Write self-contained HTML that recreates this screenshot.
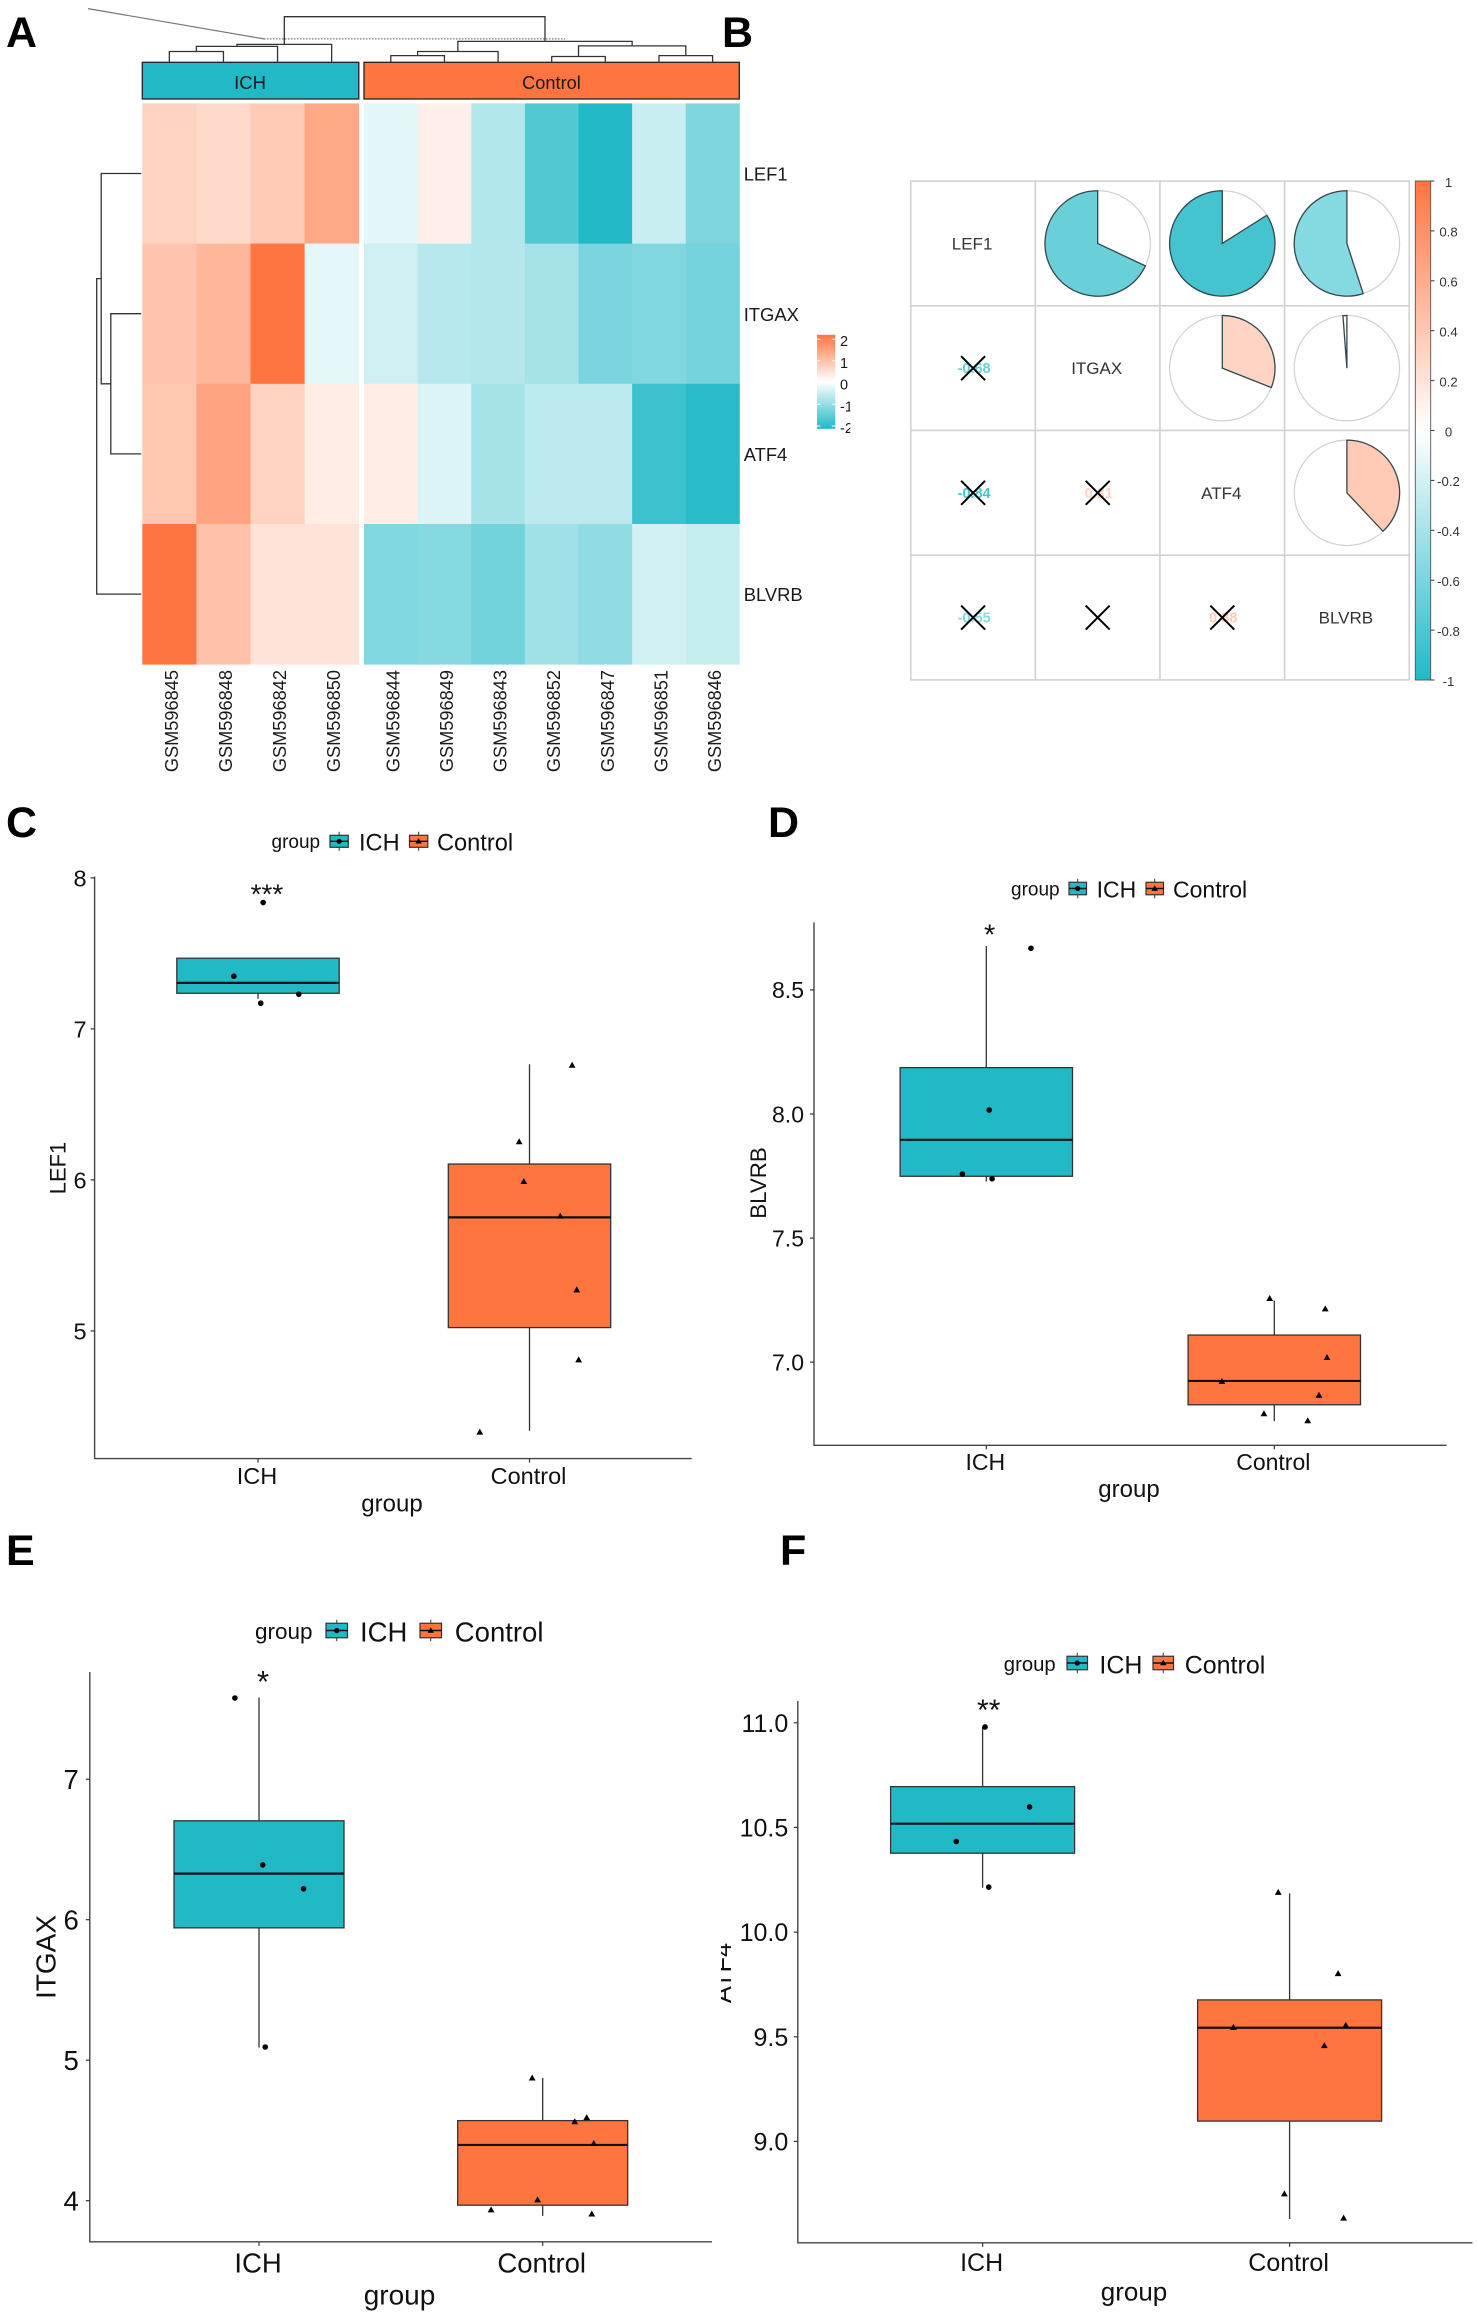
<!DOCTYPE html>
<html lang="en">
<head>
<meta charset="utf-8">
<title>ICH vs Control gene expression figure</title>
<style>
html,body{margin:0;padding:0;background:#fff;}
svg{display:block;font-family:"Liberation Sans",Arial,sans-serif;}
</style>
</head>
<body>
<svg id="figure" xmlns="http://www.w3.org/2000/svg" width="1477" height="2324" viewBox="0 0 1477 2324">
<defs>
<linearGradient id="heatGrad" x1="0" y1="0" x2="0" y2="1"><stop offset="0" stop-color="#ff7540"/><stop offset="0.5" stop-color="#ffffff"/><stop offset="1" stop-color="#22b9c7"/></linearGradient>
<linearGradient id="corrGrad" x1="0" y1="0" x2="0" y2="1"><stop offset="0" stop-color="#ff7540"/><stop offset="0.5" stop-color="#ffffff"/><stop offset="1" stop-color="#22b9c7"/></linearGradient>
<clipPath id="heatLegendClip"><rect x="800" y="320" width="50.3" height="125"/></clipPath>
<clipPath id="atf4Clip"><rect x="721" y="1900" width="40" height="160"/></clipPath>
</defs>
<g id="root"></g>
</svg>
<script>
/* ---------- Panel A data ---------- */
const heatSamples = ['GSM596845','GSM596848','GSM596842','GSM596850','GSM596844','GSM596849','GSM596843','GSM596852','GSM596847','GSM596851','GSM596846'];
const heatGenes = ['LEF1','ITGAX','ATF4','BLVRB'];
const heatLef1 = [0.67,0.58,0.80,1.33,-0.27,0.25,-0.73,-1.64,-2.10,-0.52,-1.22];
const heatItgax = [0.90,1.09,2.10,-0.25,-0.46,-0.68,-0.72,-0.85,-1.25,-1.20,-1.32];
const heatAtf4 = [0.85,1.40,0.68,0.27,0.28,-0.33,-0.85,-0.65,-0.65,-1.85,-2.03];
const heatBlvrb = [2.10,0.95,0.43,0.43,-1.20,-1.15,-1.33,-0.90,-1.05,-0.45,-0.55];
const heatLegendTicks = [2,1,0,-1,-2];
const colMerges = [[0,1,11.1],[11,2,16.2],[12,3,18.2],[4,5,7],[14,6,11.1],[7,8,6.1],[9,10,7],[16,17,16.7],[15,18,21.2],[13,19,45.9]];
const rowMerges = [[1,2,30.4],[0,4,40],[5,3,44.5]];

/* ---------- Panel B data ---------- */
const corrLabels = ['LEF1','ITGAX','ATF4','BLVRB'];
const corrRow1 = [1,-0.68,-0.84,-0.55];
const corrRow2 = [-0.68,1,0.31,-0.012];
const corrRow3 = [-0.84,0.31,1,0.38];
const corrRow4 = [-0.55,-0.012,0.38,1];
const corrBarTicks = [1,0.8,0.6,0.4,0.2,0,-0.2,-0.4,-0.6,-0.8,-1];

/* ---------- Panel C data (LEF1) ---------- */
const cTicks = [5,6,7,8];
const cCategories = ['ICH','Control'];
const cIchBox = [7.20,7.236,7.305,7.468,7.468];
const cCtrlBox = [4.339,5.022,5.752,6.105,6.766];
const cIchPoints = [7.837,7.349,7.23,7.17];
const cIchJitter = [0.019,-0.089,0.150,0.010];
const cCtrlPoints = [6.76,6.253,5.99,5.761,5.272,4.809,4.33];
const cCtrlJitter = [0.157,-0.038,-0.021,0.113,0.174,0.181,-0.183];

/* ---------- Panel D data (BLVRB) ---------- */
const dTicks = [7,7.5,8,8.5];
const dCategories = ['ICH','Control'];
const dIchBox = [7.728,7.749,7.896,8.187,8.677];
const dCtrlBox = [6.762,6.828,6.924,7.109,7.248];
const dIchPoints = [8.668,8.016,7.758,7.739];
const dIchJitter = [0.155,0.010,-0.083,0.020];
const dCtrlPoints = [7.257,7.215,7.019,6.922,6.867,6.792,6.764];
const dCtrlJitter = [-0.016,0.177,0.183,-0.182,0.155,-0.036,0.116];

/* ---------- Panel E data (ITGAX) ---------- */
const eTicks = [4,5,6,7];
const eCategories = ['ICH','Control'];
const eIchBox = [5.09,5.942,6.328,6.704,7.581];
const eCtrlBox = [3.892,3.968,4.397,4.57,4.874];
const eIchPoints = [7.578,6.39,6.22,5.094];
const eIchJitter = [-0.085,0.013,0.157,0.022];
const eCtrlPoints = [4.874,4.592,4.563,4.408,4.007,3.935,3.906];
const eCtrlJitter = [-0.037,0.155,0.113,0.18,-0.018,-0.182,0.173];

/* ---------- Panel F data (ATF4) ---------- */
const fTicks = [9,9.5,10,10.5,11];
const fCategories = ['ICH','Control'];
const fIchBox = [10.212,10.377,10.518,10.695,10.98];
const fCtrlBox = [8.629,9.097,9.543,9.676,10.185];
const fIchPoints = [10.98,10.598,10.433,10.215];
const fIchJitter = [0.008,0.153,-0.086,0.02];
const fCtrlPoints = [10.19,9.802,9.555,9.545,9.458,8.75,8.634];
const fCtrlJitter = [-0.037,0.158,0.183,-0.183,0.113,-0.017,0.176];

const TEAL = [34,185,199];
const ORANGE = [255,117,64];
const NS = 'http://www.w3.org/2000/svg';
const root = document.getElementById('root');

function mk(tag, attrs, parent) {
  const el = document.createElementNS(NS, tag);
  for (const k in attrs) el.setAttribute(k, attrs[k]);
  (parent || root).appendChild(el);
  return el;
}
function label(str, x, y, size, attrs, parent) {
  const el = mk('text', Object.assign({x: x, y: y, 'font-size': size, fill: '#1a1a1a'}, attrs || {}), parent);
  el.textContent = str;
  return el;
}
function mix(t, c) {
  const a = Math.max(0, Math.min(1, t));
  return 'rgb(' + c.map(function (v) { return Math.round(255 + (v - 255) * a); }).join(',') + ')';
}
function signedColor(t) { return t >= 0 ? mix(t, ORANGE) : mix(-t, TEAL); }

/* ---------- panel letters ---------- */
const panelLetters = ['A','B','C','D','E','F'];
const letterX = [6,722,6,768,6,780];
const letterY = [47,47,837,837,1565,1565];
panelLetters.forEach(function (s, i) {
  const t = label(s, letterX[i], letterY[i], 43, {'font-weight': 'bold', fill: '#000'});
  
  
});

/* ---------- Panel A : heatmap ---------- */
(function () {
  const g = mk('g', {});
  
  
  const colX = function (i) { return i < 4 ? 142.3 + i * 54.1 : 364 + (i - 4) * 53.63; };
  const colW = function (i) { return i < 4 ? 54.1 : 53.63; };
  const rowY = function (i) { return 103.4 + i * 140.2; };
  const rows = [heatLef1, heatItgax, heatAtf4, heatBlvrb];
  rows.forEach(function (vals, r) {
    vals.forEach(function (v, c) {
      const cell = mk('rect', {x: colX(c), y: rowY(r), width: colW(c) + 0.4, height: 140.6, fill: signedColor(v / 2.1)}, g);
      
      
    });
    const t = label(heatGenes[r], 743.7, rowY(r) + 77.2, 18.4, {}, g);
    
    
  });
  heatSamples.forEach(function (s, c) {
    const cx = colX(c) + colW(c) / 2 + 2;
    const t = label(s, 0, 0, 18.2, {transform: 'translate(' + (cx + 6.5) + ',670) rotate(-90)', 'text-anchor': 'end'}, g);
    
    
  });
  /* annotation strips */
  const s1 = mk('rect', {x: 142.3, y: 62.3, width: 216.5, height: 36.7, fill: '#22b9c7', stroke: '#222', 'stroke-width': 1.3}, g);
  
  
  const s2 = mk('rect', {x: 364, y: 62.3, width: 375.3, height: 36.7, fill: '#ff7540', stroke: '#222', 'stroke-width': 1.3}, g);
  
  
  const l1 = label('ICH', 250, 89, 18.5, {'text-anchor': 'middle'}, g);
  
  
  const l2 = label('Control', 551.5, 89, 18.2, {'text-anchor': 'middle'}, g);
  
  
  /* column dendrogram */
  const colNodes = heatSamples.map(function (_, c) { return {p: colX(c) + colW(c) / 2, h: 0}; });
  colMerges.forEach(function (m) {
    const a = colNodes[m[0]], b = colNodes[m[1]], base = 62.6;
    const d = 'M' + a.p + ' ' + (base - a.h) + 'V' + (base - m[2]) + 'H' + b.p + 'V' + (base - b.h);
    const path = mk('path', {d: d, fill: 'none', stroke: '#333', 'stroke-width': 1.3}, g);
    
    
    colNodes.push({p: (a.p + b.p) / 2, h: m[2]});
  });
  /* row dendrogram */
  const rowNodes = heatGenes.map(function (_, r) { return {p: rowY(r) + 70.1, h: 0}; });
  rowMerges.forEach(function (m) {
    const a = rowNodes[m[0]], b = rowNodes[m[1]], base = 141.2;
    const d = 'M' + (base - a.h) + ' ' + a.p + 'H' + (base - m[2]) + 'V' + b.p + 'H' + (base - b.h);
    const path = mk('path', {d: d, fill: 'none', stroke: '#333', 'stroke-width': 1.3}, g);
    
    
    rowNodes.push({p: (a.p + b.p) / 2, h: m[2]});
  });
  /* stray annotation lines */
  const l3 = mk('line', {x1: 88, y1: 8.6, x2: 264, y2: 38.9, stroke: '#777', 'stroke-width': 1.2}, g);
  
  
  const l4 = mk('line', {x1: 264, y1: 38.9, x2: 565, y2: 38.9, stroke: '#777', 'stroke-width': 1.2, 'stroke-dasharray': '1.5 1.5'}, g);
  
  
  /* legend */
  const lg = mk('g', {'clip-path': 'url(#heatLegendClip)'}, g);
  
  
  const bar = mk('rect', {x: 817, y: 334.8, width: 18.3, height: 94, fill: 'url(#heatGrad)'}, lg);
  
  
  const ly = function (v) { return 382.6 - v * 21.7; };
  heatLegendTicks.forEach(function (v) {
    const a = mk('line', {x1: 817, x2: 820.5, y1: ly(v), y2: ly(v), stroke: '#fff', 'stroke-width': 1}, lg);
    
    
    const b = mk('line', {x1: 831.8, x2: 835.3, y1: ly(v), y2: ly(v), stroke: '#fff', 'stroke-width': 1}, lg);
    
    
    const t = label(String(v), 840, ly(v) + 7, 14.5, {}, lg);
    
    
  });
})();

/* ---------- Panel B : correlation pies ---------- */
(function () {
  const g = mk('g', {});
  
  
  const gx = function (i) { return 910.8 + i * 124.6; };
  const gy = function (i) { return 181.1 + i * 124.7; };
  const matrix = [corrRow1, corrRow2, corrRow3, corrRow4];
  const R = 52.7;
  matrix.forEach(function (row, r) {
    row.forEach(function (v, c) {
      const cell = mk('rect', {x: gx(c), y: gy(r), width: 124.6, height: 124.7, fill: '#fff', stroke: '#d0d0d0', 'stroke-width': 1.5}, g);
      
      
      const cx = gx(c) + 62.3, cy = gy(r) + 62.35;
      if (r === c) {
        const t = label(corrLabels[r], cx - 1, cy + 6, 17, {'text-anchor': 'middle', fill: '#333'}, g);
        
        
      } else if (c > r) {
        const ring = mk('circle', {cx: cx, cy: cy, r: R, fill: '#fff', stroke: '#d0d0d0', 'stroke-width': 1.2}, g);
        
        
        const ang = Math.abs(v) * 2 * Math.PI * (v < 0 ? -1 : 1);
        const ex = cx + R * Math.sin(ang), ey = cy - R * Math.cos(ang);
        const large = Math.abs(v) > 0.5 ? 1 : 0, sweep = v < 0 ? 0 : 1;
        const d = 'M' + cx + ' ' + cy + 'L' + cx + ' ' + (cy - R) + 'A' + R + ' ' + R + ' 0 ' + large + ' ' + sweep + ' ' + ex + ' ' + ey + 'Z';
        const wedge = mk('path', {d: d, fill: signedColor(v), stroke: '#33484c', 'stroke-width': 1.3}, g);
        
        
      } else {
        const t = label(v.toFixed(2), cx + 1, cy + 5, 14.5, {'text-anchor': 'middle', 'font-weight': 'bold', fill: signedColor(v)}, g);
        
        
        const x = mk('path', {d: 'M' + (cx - 12) + ' ' + (cy - 12) + 'L' + (cx + 12) + ' ' + (cy + 12) + 'M' + (cx + 12) + ' ' + (cy - 12) + 'L' + (cx - 12) + ' ' + (cy + 12), stroke: '#000', 'stroke-width': 2, fill: 'none'}, g);
        
        
      }
    });
  });
  const bar = mk('rect', {x: 1415.3, y: 181, width: 15.4, height: 499, fill: 'url(#corrGrad)', stroke: '#555', 'stroke-width': 0.9}, g);
  
  
  const by = function (v) { return 430.5 - v * 249.5; };
  corrBarTicks.forEach(function (v) {
    const k = mk('line', {x1: 1430.7, x2: 1434.4, y1: by(v), y2: by(v), stroke: '#333', 'stroke-width': 1}, g);
    
    
    const t = label(String(v), 1448.5, by(v) + 5.8, 13.2, {fill: '#333', 'text-anchor': 'middle'}, g);
    
    
  });
})();

/* ---------- Box plots ---------- */
function drawBoxPanel(cfg) {
  const g = mk('g', {});
  
  
  const yS = function (v) { return cfg.y0 - (v - cfg.v0) * cfg.perUnit; };
  const xS = function (c) { return cfg.x0 + c * cfg.spacing; };

  const axis = mk('path', {d: 'M' + cfg.ax + ' ' + cfg.top + 'V' + cfg.base + 'H' + cfg.right, fill: 'none', stroke: '#444', 'stroke-width': 1.4}, g);
  
  

  cfg.ticks.forEach(function (v) {
    const tk = mk('line', {x1: cfg.ax - 4, x2: cfg.ax, y1: yS(v), y2: yS(v), stroke: '#333', 'stroke-width': 1.2}, g);
    
    
    const t = label(v.toFixed(cfg.digits), cfg.ax - cfg.tickGap, yS(v) + cfg.tickFont * 0.36, cfg.tickFont, {'text-anchor': 'end', fill: '#111'}, g);
    
    
  });
  cfg.categories.forEach(function (s, c) {
    const tk = mk('line', {x1: xS(c), x2: xS(c), y1: cfg.base, y2: cfg.base + 4, stroke: '#333', 'stroke-width': 1.2}, g);
    
    
    const t = label(s, xS(c) - 1, cfg.xLabelY + cfg.tickFont * 0.36, cfg.tickFont, {'text-anchor': 'middle', fill: '#111'}, g);
    
    
  });
  const xt = label('group', cfg.xTitleX, cfg.xTitleY + cfg.titleFont * 0.27, cfg.titleFont, {'text-anchor': 'middle', fill: '#111'}, g);
  
  
  const ytWrap = mk('g', cfg.yTitleClip ? {'clip-path': cfg.yTitleClip} : {}, g);
  
  
  const yt = label(cfg.yTitle, 0, 0, cfg.yTitleFont, {'text-anchor': 'middle', fill: '#111', transform: 'translate(' + cfg.yTitleX + ',' + cfg.yTitleY + ') rotate(-90)'}, ytWrap);
  
  

  [[cfg.ichBox, '#22b9c7'], [cfg.ctrlBox, '#ff7540']].forEach(function (pair, c) {
    const st = pair[0], cx = xS(c);
    const wh = mk('line', {x1: cx, x2: cx, y1: yS(st[4]), y2: yS(st[0]), stroke: '#333', 'stroke-width': 1.3}, g);
    
    
    const bx = mk('rect', {x: cx - cfg.half, y: yS(st[3]), width: cfg.half * 2, height: yS(st[1]) - yS(st[3]), fill: pair[1], stroke: '#333', 'stroke-width': 1.3}, g);
    
    
    const md = mk('line', {x1: cx - cfg.half, x2: cx + cfg.half, y1: yS(st[2]), y2: yS(st[2]), stroke: '#111', 'stroke-width': 2.2}, g);
    
    
  });
  cfg.ichPoints.forEach(function (v, i) {
    const p = mk('circle', {cx: xS(0 + cfg.ichJitter[i]), cy: yS(v), r: 2.8, fill: '#000'}, g);
    
    
  });
  cfg.ctrlPoints.forEach(function (v, i) {
    const x = xS(1 + cfg.ctrlJitter[i]), y = yS(v);
    const p = mk('path', {d: 'M' + x + ' ' + (y - 3.4) + 'L' + (x + 3.4) + ' ' + (y + 2.6) + 'L' + (x - 3.4) + ' ' + (y + 2.6) + 'Z', fill: '#000'}, g);
    
    
  });
  const sig = label(cfg.stars, cfg.starX, cfg.starY + cfg.starFont * 0.56, cfg.starFont, {'text-anchor': 'middle', fill: '#111'}, g);
  
  

  /* legend */
  const L = cfg.legend;
  const lg = mk('g', {}, g);
  
  
  const lt = label('group', L.groupX, L.cy + L.groupFont * 0.3, L.groupFont, {fill: '#111'}, lg);
  
  
  [[L.k1, '#22b9c7', 'ICH', L.t1], [L.k2, '#ff7540', 'Control', L.t2]].forEach(function (e, i) {
    const kx = e[0], kc = kx + L.kw / 2, ky0 = L.kcy - L.kh / 2;
    const wh = mk('line', {x1: kc, x2: kc, y1: ky0 - 3.5, y2: ky0 + L.kh + 3.5, stroke: '#333', 'stroke-width': 1}, lg);
    
    
    const key = mk('rect', {x: kx, y: ky0, width: L.kw, height: L.kh, fill: e[1], stroke: '#333', 'stroke-width': 1.2}, lg);
    
    
    const ml = mk('line', {x1: kx, x2: kx + L.kw, y1: L.kcy, y2: L.kcy, stroke: '#111', 'stroke-width': 1.4}, lg);
    
    
    let mark;
    if (i === 0) {
      mark = mk('circle', {cx: kc, cy: L.kcy, r: 2.6, fill: '#000'}, lg);
    } else {
      mark = mk('path', {d: 'M' + kc + ' ' + (L.kcy - 3.2) + 'L' + (kc + 3.2) + ' ' + (L.kcy + 2.2) + 'L' + (kc - 3.2) + ' ' + (L.kcy + 2.2) + 'Z', fill: '#000'}, lg);
    }
    
    
    const tx = label(e[2], e[3], L.cy + L.font * 0.36 - 0.6, L.font, {fill: '#111'}, lg);
    
    
  });
}

drawBoxPanel({name: 'lef1-boxplot-panel', ax: 94.6, base: 1458.6, top: 876.5, right: 691.7,
  y0: 1330.9, v0: 5, perUnit: 151, x0: 258, spacing: 271.5, half: 81.2,
  ticks: cTicks, categories: cCategories, digits: 0, tickGap: 8, tickFont: 23.5, xLabelY: 1475.5,
  xTitleX: 392, xTitleY: 1505, titleFont: 24, yTitle: 'LEF1', yTitleX: 65.5, yTitleY: 1168, yTitleFont: 22,
  ichBox: cIchBox, ctrlBox: cCtrlBox, ichPoints: cIchPoints, ichJitter: cIchJitter, ctrlPoints: cCtrlPoints, ctrlJitter: cCtrlJitter,
  stars: '***', starX: 267, starY: 888, starFont: 28,
  legend: {groupX: 271.5, groupFont: 19, cy: 842.5, kcy: 841.3, k1: 330, k2: 409.5, kw: 18.3, kh: 12, t1: 359, t2: 437, font: 23.6}});

drawBoxPanel({name: 'blvrb-boxplot-panel', ax: 814, base: 1445.3, top: 922.4, right: 1446.5,
  y0: 1362.1, v0: 7, perUnit: 248.1, x0: 986.3, spacing: 288, half: 86.2,
  ticks: dTicks, categories: dCategories, digits: 1, tickGap: 10, tickFont: 23, xLabelY: 1461.5,
  xTitleX: 1129, xTitleY: 1490.7, titleFont: 24, yTitle: 'BLVRB', yTitleX: 766, yTitleY: 1183, yTitleFont: 22.3,
  ichBox: dIchBox, ctrlBox: dCtrlBox, ichPoints: dIchPoints, ichJitter: dIchJitter, ctrlPoints: dCtrlPoints, ctrlJitter: dCtrlJitter,
  stars: '*', starX: 989.6, starY: 928.5, starFont: 29,
  legend: {groupX: 1011, groupFont: 19, cy: 890, kcy: 888.5, k1: 1069, k2: 1146, kw: 17.5, kh: 12.5, t1: 1096.6, t2: 1173, font: 23}});

drawBoxPanel({name: 'itgax-boxplot-panel', ax: 89.8, base: 2241.8, top: 1672, right: 712,
  y0: 2200.7, v0: 4, perUnit: 140.5, x0: 259, spacing: 283.7, half: 85,
  ticks: eTicks, categories: eCategories, digits: 0, tickGap: 11, tickFont: 27.5, xLabelY: 2262.5,
  xTitleX: 399.5, xTitleY: 2297, titleFont: 28, yTitle: 'ITGAX', yTitleX: 55.5, yTitleY: 1957, yTitleFont: 28,
  ichBox: eIchBox, ctrlBox: eCtrlBox, ichPoints: eIchPoints, ichJitter: eIchJitter, ctrlPoints: eCtrlPoints, ctrlJitter: eCtrlJitter,
  stars: '*', starX: 263, starY: 1674.5, starFont: 31,
  legend: {groupX: 255, groupFont: 22.5, cy: 1632, kcy: 1630.5, k1: 326, k2: 420, kw: 21.5, kh: 14.5, t1: 360, t2: 454.8, font: 27.5}});

drawBoxPanel({name: 'atf4-boxplot-panel', ax: 797.8, base: 2242.8, top: 1701, right: 1472.5,
  y0: 2141.4, v0: 9, perUnit: 209.3, x0: 982.6, spacing: 307, half: 92,
  ticks: fTicks, categories: fCategories, digits: 1, tickGap: 9.5, tickFont: 25, xLabelY: 2262,
  xTitleX: 1134, xTitleY: 2293.6, titleFont: 26, yTitle: 'ATF4', yTitleX: 731, yTitleY: 1973, yTitleFont: 25.4, yTitleClip: 'url(#atf4Clip)',
  ichBox: fIchBox, ctrlBox: fCtrlBox, ichPoints: fIchPoints, ichJitter: fIchJitter, ctrlPoints: fCtrlPoints, ctrlJitter: fCtrlJitter,
  stars: '**', starX: 988.7, starY: 1703, starFont: 30,
  legend: {groupX: 1003.8, groupFont: 20.3, cy: 1665, kcy: 1663, k1: 1067, k2: 1153, kw: 20.5, kh: 13.5, t1: 1099.4, t2: 1184.7, font: 25}});
</script>
</body>
</html>
